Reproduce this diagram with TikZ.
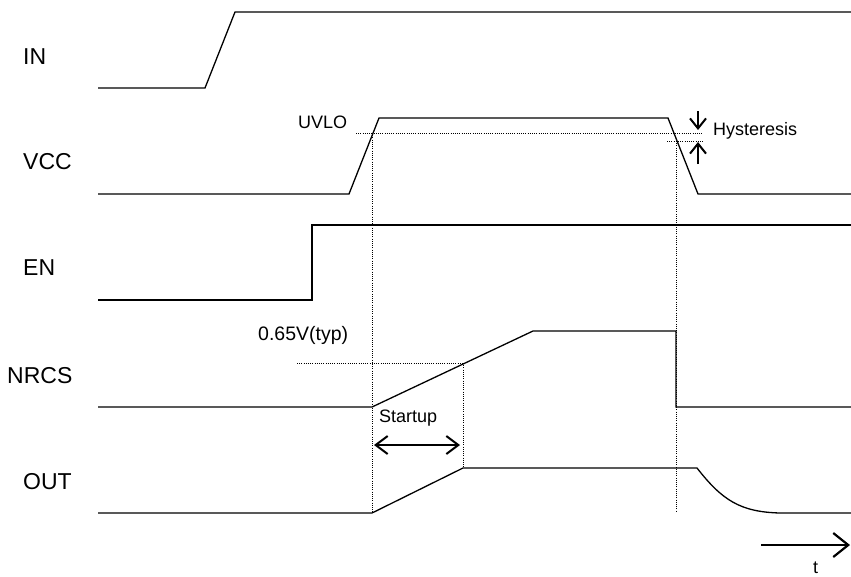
\documentclass[tikz,border=0pt]{standalone}
\usepackage{fontspec}
\setmainfont{Liberation Sans}
\usetikzlibrary{arrows.meta}
\begin{document}
\begin{tikzpicture}[x=1pt,y=-1pt,
  wave/.style={line width=1.3pt, line join=miter},
  guide/.style={line width=0.8pt, dash pattern=on 1pt off 1.2pt},
  siglabel/.style={anchor=west, inner sep=0pt, font=\fontsize{23}{26}\selectfont},
  note/.style={anchor=base west, inner sep=0pt, font=\fontsize{18}{21}\selectfont},
  hyarrow/.style={line width=2pt, -{Straight Barb[length=10pt,width=16pt]}},
  dimarrow/.style={line width=2pt, {Straight Barb[length=12pt,width=18pt]}-{Straight Barb[length=12pt,width=18pt]}},
  timearrow/.style={line width=2.2pt, -{Straight Barb[length=15pt,width=24pt]}}]
\useasboundingbox (0,0) rectangle (851,576);

% signal labels
\node[siglabel] (lIN) at (23,57) {IN};
\node[siglabel] (lVCC) at (23,162) {VCC};
\node[siglabel] (lEN) at (23,268) {EN};
\node[siglabel] (lNRCS) at (7,376) {NRCS};
\node[siglabel] (lOUT) at (23,482) {OUT};

% key coordinates
\coordinate (vccUp) at (379,133);
\coordinate (vccDn) at (676,141);
\coordinate (nrcsTh) at (463,363);
\coordinate (outTop) at (463,468);

% guides (dotted)
\draw[guide] (356,133) -- (703,133);
\draw[guide] (667,141) -- (703,141);
\draw[guide] (372,133) -- (372,513);
\draw[guide] (vccDn) -- (676,511);
\draw[guide] (297,363) -- (nrcsTh);
\draw[guide] (nrcsTh) -- (outTop);

% waveforms
\draw[wave] (98,88) -- (205,88) -- (235,12) -- (851,12);
\draw[wave] (98,194) -- (349,194) -- (379,118) -- (668,118) -- (698,194) -- (851,194);
\draw[wave] (98,300) -- (312,300) -- (312,225) -- (851,225);
\draw[wave] (98,407) -- (372,407) -- (533,331) -- (676,331) -- (676,407) -- (851,407);
\draw[wave] (98,513) -- (372,513) -- (outTop) -- (697,468)
  .. controls (722,500) and (740,512) .. (780,513) -- (851,513);

% annotations
\node[note] (uvlo) at (298,128) {UVLO};
\node[note] (hyst) at (713,135) {Hysteresis};
\node[note, font=\fontsize{19.5}{22}\selectfont] (thr) at (258,340) {0.65V(typ)};
\node[note] (start) at (379,422) {Startup};
\node[note] (tlab) at (813,573) {t};

\coordinate (hA1) at (698,111);
\coordinate (hA2) at (698,130);
\coordinate (hB1) at (698,164);
\coordinate (hB2) at (698,142);
\draw[hyarrow] (hA1) -- (hA2);
\draw[hyarrow] (hB1) -- (hB2);

\coordinate (sA) at (374,445);
\coordinate (sB) at (460,445);
\draw[dimarrow] (sA) -- (sB);

\coordinate (tA) at (761,545);
\coordinate (tB) at (850,545);
\draw[timearrow] (tA) -- (tB);
\end{tikzpicture}
\end{document}
